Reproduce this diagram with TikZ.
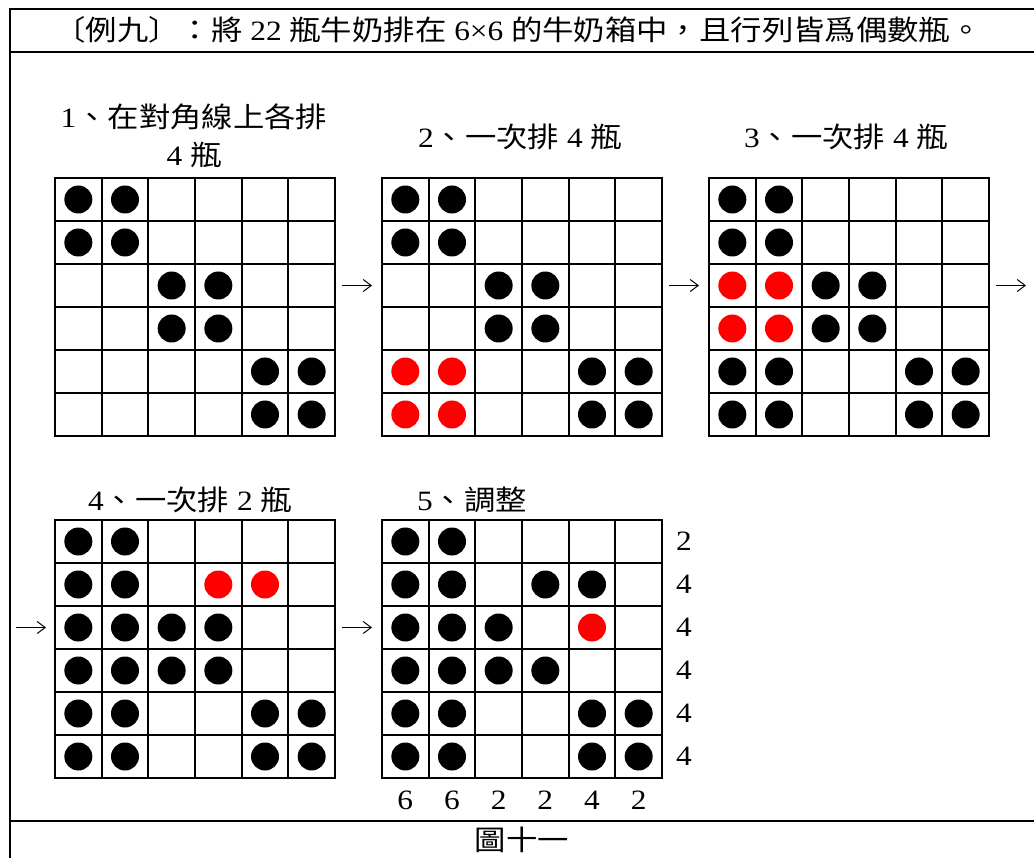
\documentclass[tikz,border=0pt]{standalone}
\usepackage{fontspec}
\setmainfont{Liberation Serif}[FakeStretch=1.12]
\newfontfamily\cjk{Noto Sans CJK TC}[FakeStretch=1.12]
\usetikzlibrary{arrows.meta,calc}
\tikzset{
  frame/.style={line width=2.5pt},
  cellline/.style={line width=2pt, line cap=rect},
  bot/.style={circle, fill=black, minimum size=28pt, inner sep=0pt, outer sep=0pt},
  redbot/.style={bot, fill=red},
  lab/.style={inner sep=0pt, font=\fontsize{28}{34}\selectfont, align=center},
  arr/.style={line width=1pt, -{Straight Barb[length=8pt,width=12pt,line width=1pt]}},
  gridbox/.style={inner sep=0pt, outer sep=0pt, minimum width=280pt, minimum height=258pt, anchor=north west},
}
\newcommand\milkgrid[3]{%
  \node[gridbox] (#1) at (#2,#3) {};
  \begin{scope}[shift={(#2,#3)}]
    \foreach \i in {0,...,6} \draw[cellline] (\i*280/6,0) -- (\i*280/6,258);
    \foreach \j in {0,...,6} \draw[cellline] (0,\j*43) -- (280,\j*43);
  \end{scope}}
\newcommand\bottles[4]{% name, x0, y0, list col/row/style
  \foreach \c/\r/\s in {#4}
    \node[\s] (#1-\c-\r) at ({#2+(\c-0.5)*280/6},{#3+(\r-0.5)*43}) {};}
\begin{document}
\begin{tikzpicture}[x=1pt,y=-1pt]
\useasboundingbox (0,0) rectangle (1034,858);
% frame
\draw[frame] (1034,9) -- (10,9) -- (10,860);
\draw[frame] (10,52) -- (1034,52);
\draw[frame] (10,821) -- (1034,821);
% title
\node[lab] (title) at (518,30) {{\cjk 〔例九〕：將} 22 {\cjk 瓶牛奶排在} 6×6 {\cjk 的牛奶箱中，且行列皆爲偶數瓶。}};
% step labels
\node[lab] (s1a) at (194,117) {1{\cjk 、在對角線上各排}};
\node[lab] (s1b) at (194,155) {4 {\cjk 瓶}};
\node[lab] (s2) at (520,137) {2{\cjk 、一次排} 4 {\cjk 瓶}};
\node[lab] (s3) at (846,137) {3{\cjk 、一次排} 4 {\cjk 瓶}};
\node[lab] (s4) at (190,500) {4{\cjk 、一次排} 2 {\cjk 瓶}};
\node[lab] (s5) at (472,500) {5{\cjk 、調整}};
% grids
\milkgrid{g1}{55}{178}
\milkgrid{g2}{382}{178}
\milkgrid{g3}{709}{178}
\milkgrid{g4}{55}{520}
\milkgrid{g5}{382}{520}
\bottles{g1}{55}{178}{1/1/bot,2/1/bot,1/2/bot,2/2/bot,3/3/bot,4/3/bot,3/4/bot,4/4/bot,5/5/bot,6/5/bot,5/6/bot,6/6/bot}
\bottles{g2}{382}{178}{1/1/bot,2/1/bot,1/2/bot,2/2/bot,3/3/bot,4/3/bot,3/4/bot,4/4/bot,5/5/bot,6/5/bot,5/6/bot,6/6/bot,1/5/redbot,2/5/redbot,1/6/redbot,2/6/redbot}
\bottles{g3}{709}{178}{1/1/bot,2/1/bot,1/2/bot,2/2/bot,1/3/redbot,2/3/redbot,3/3/bot,4/3/bot,1/4/redbot,2/4/redbot,3/4/bot,4/4/bot,1/5/bot,2/5/bot,5/5/bot,6/5/bot,1/6/bot,2/6/bot,5/6/bot,6/6/bot}
\bottles{g4}{55}{520}{1/1/bot,2/1/bot,1/2/bot,2/2/bot,4/2/redbot,5/2/redbot,1/3/bot,2/3/bot,3/3/bot,4/3/bot,1/4/bot,2/4/bot,3/4/bot,4/4/bot,1/5/bot,2/5/bot,5/5/bot,6/5/bot,1/6/bot,2/6/bot,5/6/bot,6/6/bot}
\bottles{g5}{382}{520}{1/1/bot,2/1/bot,1/2/bot,2/2/bot,4/2/bot,5/2/bot,1/3/bot,2/3/bot,3/3/bot,5/3/redbot,1/4/bot,2/4/bot,3/4/bot,4/4/bot,1/5/bot,2/5/bot,5/5/bot,6/5/bot,1/6/bot,2/6/bot,5/6/bot,6/6/bot}
% arrows
\coordinate (a1s) at (342,285.5); \coordinate (a1e) at (372,285.5);
\coordinate (a2s) at (669,285.5); \coordinate (a2e) at (699,285.5);
\coordinate (a3s) at (996,285.5); \coordinate (a3e) at (1026,285.5);
\coordinate (a4s) at (16,627.5);  \coordinate (a4e) at (46,627.5);
\coordinate (a5s) at (342,627.5); \coordinate (a5e) at (372,627.5);
\draw[arr] (a1s) -- (a1e);
\draw[arr] (a2s) -- (a2e);
\draw[arr] (a3s) -- (a3e);
\draw[arr] (a4s) -- (a4e);
\draw[arr] (a5s) -- (a5e);
% row counts
\foreach \n/\k in {2/1,4/2,4/3,4/4,4/5,4/6}
  \node[lab] (r\k) at (684,{520+(\k-0.5)*43}) {\n};
% column counts
\foreach \n/\k in {6/1,6/2,2/3,2/4,4/5,2/6}
  \node[lab] (c\k) at ({382+(\k-0.5)*280/6},800) {\n};
% caption
\node[lab] (cap) at (522,840) {\cjk 圖十一};
\end{tikzpicture}
\end{document}
